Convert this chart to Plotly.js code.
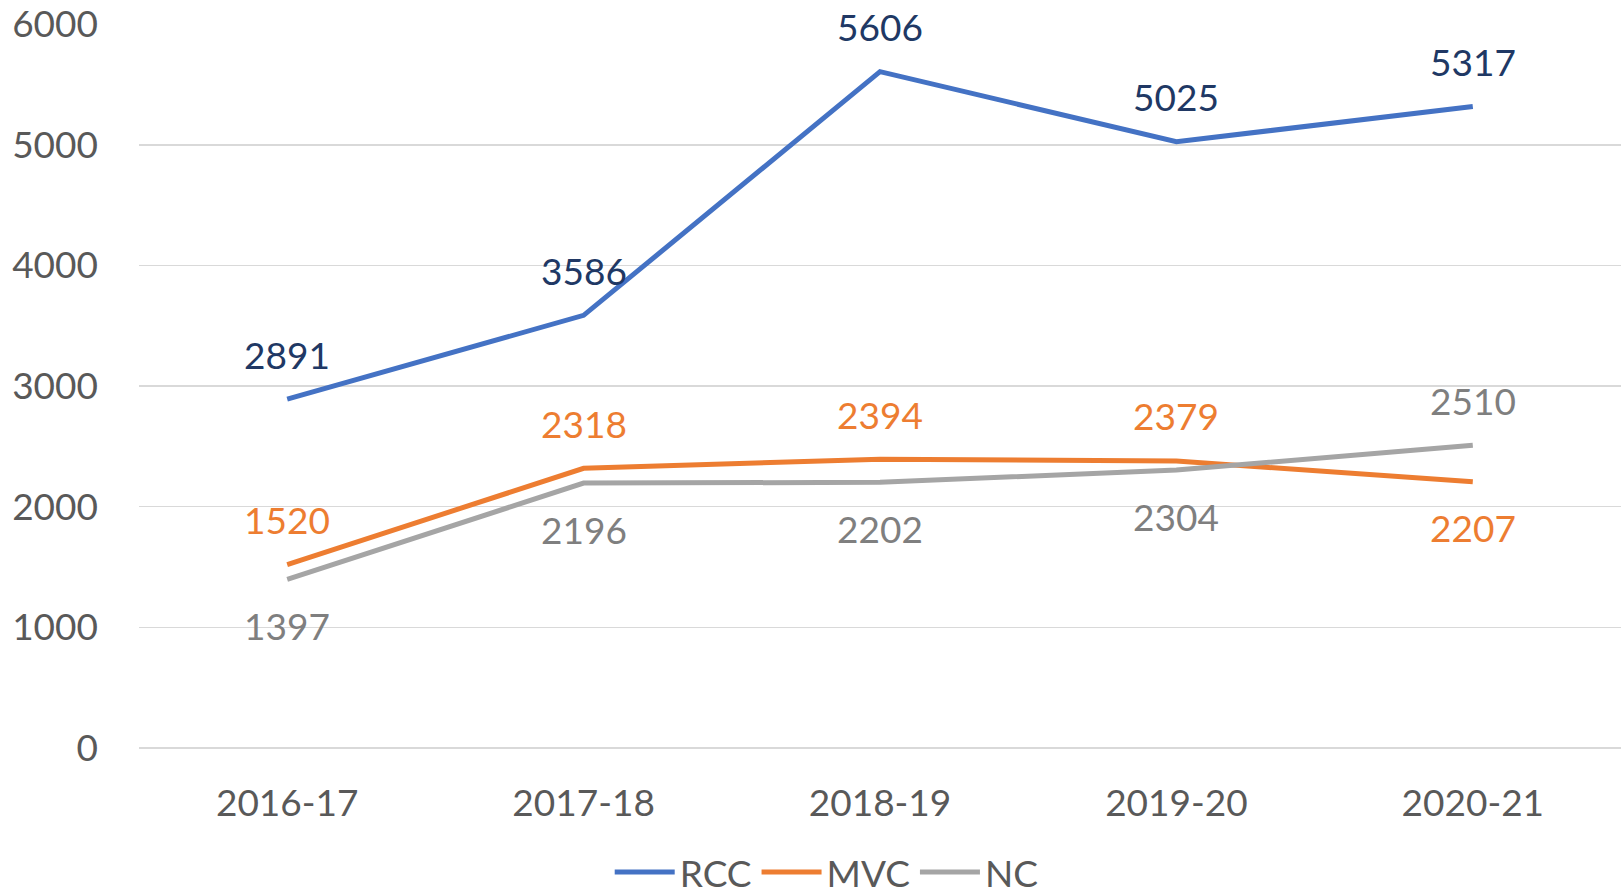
<!DOCTYPE html>
<html>
<head>
<meta charset="utf-8">
<script src="https://cdn.plot.ly/plotly-3.0.1.min.js"></script>
<style>
  html, body { margin: 0; padding: 0; background: #fff; }
  #chart { width: 1621px; height: 894px; }
</style>
</head>
<body>
<div id="chart"></div>
<script>
const categories = ['2016-17', '2017-18', '2018-19', '2019-20', '2020-21'];
const rccValues = [2891, 3586, 5606, 5025, 5317];
const mvcValues = [1520, 2318, 2394, 2379, 2207];
const ncValues  = [1397, 2196, 2202, 2304, 2510];
const rccLabelSide = ['above', 'above', 'above', 'above', 'above'];
const mvcLabelSide = ['above', 'above', 'above', 'above', 'below'];
const ncLabelSide  = ['below', 'below', 'below', 'below', 'above'];
const yTicks = [0, 1000, 2000, 3000, 4000, 5000, 6000];

const FONT = 'Lato, "Open Sans", sans-serif';
const series = [
  {name: 'RCC', values: rccValues, sides: rccLabelSide, color: '#4472C4', labelColor: '#203864'},
  {name: 'MVC', values: mvcValues, sides: mvcLabelSide, color: '#ED7D31', labelColor: '#ED7D31'},
  {name: 'NC',  values: ncValues,  sides: ncLabelSide,  color: '#A5A5A5', labelColor: '#7F7F7F'}
];

const traces = series.map(s => ({
  type: 'scatter',
  mode: 'lines',
  name: s.name,
  x: categories,
  y: s.values,
  line: {color: s.color, width: 5},
  hoverinfo: 'x+y+name'
}));

const annotations = [];
series.forEach(s => {
  s.values.forEach((v, i) => {
    annotations.push({
      x: categories[i],
      y: v,
      xref: 'x',
      yref: 'y',
      text: String(v),
      showarrow: false,
      yshift: s.sides[i] === 'above' ? 45 : -46,
      font: {family: FONT, size: 37, color: s.labelColor}
    });
  });
});

const layout = {
  width: 1621,
  height: 894,
  margin: {l: 139, r: 0, t: 24, b: 146},
  paper_bgcolor: '#ffffff',
  plot_bgcolor: '#ffffff',
  showlegend: true,
  legend: {
    orientation: 'h',
    xref: 'container',
    yref: 'container',
    x: 0.51,
    xanchor: 'center',
    y: 0.024,
    yanchor: 'middle',
    font: {family: FONT, size: 37, color: '#595959'},
    itemwidth: 60,
    tracegroupgap: 0
  },
  xaxis: {
    type: 'category',
    range: [-0.5, 4.5],
    showgrid: false,
    showline: false,
    zeroline: false,
    ticks: '',
    ticklabelstandoff: 30,
    tickfont: {family: FONT, size: 37, color: '#595959'}
  },
  yaxis: {
    range: [0, 6001],
    tickvals: yTicks,
    ticktext: yTicks.map(String),
    showgrid: true,
    gridcolor: '#D9D9D9',
    gridwidth: 1.5,
    zeroline: true,
    zerolinecolor: '#D9D9D9',
    zerolinewidth: 1.5,
    showline: false,
    ticks: '',
    ticklabelstandoff: 40,
    ticklabeloverflow: 'allow',
    tickfont: {family: FONT, size: 37, color: '#595959'}
  },
  annotations: annotations
};

Plotly.newPlot('chart', traces, layout, {displayModeBar: false, staticPlot: true});
</script>
</body>
</html>
